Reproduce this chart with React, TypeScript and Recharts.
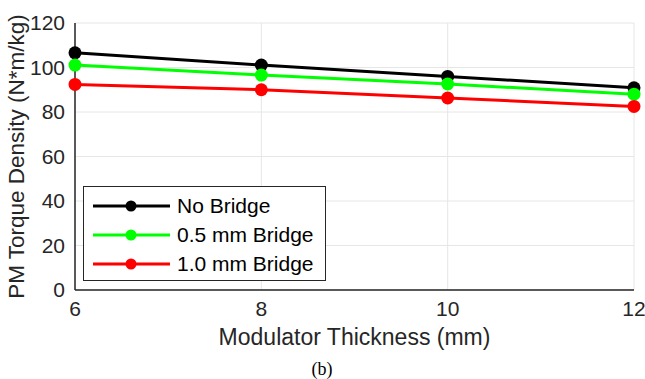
import { LineChart, Line, XAxis, YAxis, CartesianGrid } from "recharts";

const thickness = [6, 8, 10, 12];
const noBridge = [106.6, 101.1, 96.0, 90.9];
const bridge05 = [101.1, 96.6, 92.6, 88.0];
const bridge10 = [92.4, 90.0, 86.3, 82.5];
const xTicks = [6, 8, 10, 12];
const yTicks = [0, 20, 40, 60, 80, 100, 120];

const seriesInfo = [
  { key: "noBridge", name: "No Bridge", color: "#000000" },
  { key: "bridge05", name: "0.5 mm Bridge", color: "#00ff00" },
  { key: "bridge10", name: "1.0 mm Bridge", color: "#ff0000" },
];

const data = thickness.map((t, i) => ({
  t,
  noBridge: noBridge[i],
  bridge05: bridge05[i],
  bridge10: bridge10[i],
}));

const FONT = '"Liberation Sans", Arial, Helvetica, sans-serif';
const AXIS = "#262626";

function LegendBox() {
  return (
    <div
      style={{
        position: "absolute",
        left: 83,
        top: 186,
        width: 243,
        height: 95,
        border: `1.5px solid ${AXIS}`,
        background: "#fff",
        padding: "4px 0 0 7px",
        fontFamily: FONT,
        fontSize: 21,
        color: "#000",
        boxSizing: "border-box",
        whiteSpace: "nowrap",
      }}
    >
      {seriesInfo.map((s) => (
        <div key={s.key} style={{ display: "flex", alignItems: "center", height: 29 }}>
          <svg width={80} height={20} style={{ marginRight: 6 }}>
            <line x1={2} y1={10} x2={79} y2={10} stroke={s.color} strokeWidth={3} />
            <circle cx={40} cy={10} r={5.5} fill={s.color} />
          </svg>
          <span>{s.name}</span>
        </div>
      ))}
    </div>
  );
}

export default function App() {
  return (
    <div style={{ position: "absolute", left: 0, top: 0, width: 645, height: 379, background: "#fff" }}>
      <LineChart width={645} height={379} data={data} margin={{ top: 23, right: 11, bottom: 0, left: 5 }}>
        <CartesianGrid stroke="#e6e6e6" strokeWidth={1} xAxisId="b" yAxisId="l" />
        <XAxis
          xAxisId="b"
          dataKey="t"
          type="number"
          domain={[6, 12]}
          ticks={xTicks}
          tickLine={false}
          axisLine={{ stroke: AXIS, strokeWidth: 1.5 }}
          tick={{ fill: "#262626", fontSize: 21, fontFamily: FONT }}
          tickMargin={5}
          height={89}
          label={{
            value: "Modulator Thickness (mm)",
            position: "insideTop",
            offset: 39,
            fill: "#262626",
            fontSize: 23,
            fontFamily: FONT,
          }}
        />
        <XAxis
          xAxisId="t"
          orientation="top"
          dataKey="t"
          type="number"
          domain={[6, 12]}
          ticks={xTicks}
          tick={false}
          tickLine={false}
          height={0}
          axisLine={{ stroke: AXIS, strokeWidth: 1.5 }}
        />
        <YAxis
          yAxisId="l"
          domain={[0, 120]}
          ticks={yTicks}
          tickLine={false}
          axisLine={{ stroke: AXIS, strokeWidth: 1.5 }}
          tick={{ fill: "#262626", fontSize: 21, fontFamily: FONT }}
          tickMargin={4}
          width={70}
          label={{
            value: "PM Torque Density (N*m/kg)",
            angle: -90,
            position: "insideLeft",
            offset: 11,
            style: { textAnchor: "middle" },
            fill: "#262626",
            fontSize: 22.5,
            fontFamily: FONT,
          }}
        />
        <YAxis
          yAxisId="r"
          orientation="right"
          domain={[0, 120]}
          ticks={yTicks}
          tick={false}
          tickLine={false}
          width={0}
          axisLine={{ stroke: AXIS, strokeWidth: 1.5 }}
        />
        {seriesInfo.map((s) => (
          <Line
            key={s.key}
            xAxisId="b"
            yAxisId="l"
            dataKey={s.key}
            name={s.name}
            stroke={s.color}
            strokeWidth={3}
            dot={{ r: 6.5, fill: s.color, stroke: s.color, strokeWidth: 0 }}
            isAnimationActive={false}
          />
        ))}
      </LineChart>
      <LegendBox />
      <div
        style={{
          position: "absolute",
          left: 222,
          width: 200,
          top: 359,
          textAlign: "center",
          fontFamily: '"Liberation Serif", "Times New Roman", serif',
          fontSize: 18,
          color: "#000",
        }}
      >
        (b)
      </div>
    </div>
  );
}
